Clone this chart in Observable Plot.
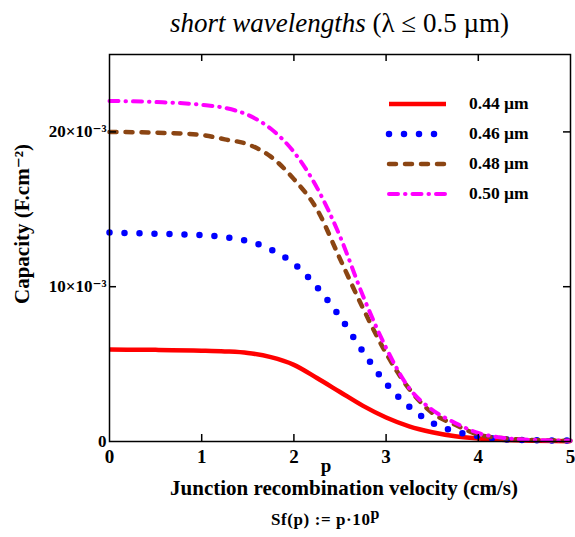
<!DOCTYPE html>
<html>
<head>
<meta charset="utf-8">
<script src="https://cdn.jsdelivr.net/npm/d3@7"></script>
<script src="https://cdn.jsdelivr.net/npm/@observablehq/plot@0.6"></script>
<style>
  html, body { margin: 0; padding: 0; background: #fff; }
  #wrap { position: relative; width: 575px; height: 537px; overflow: hidden; font-family: "Liberation Serif", "DejaVu Serif", serif; }
  #title { position: absolute; left: 0; top: 7px; width: 575px; text-align: center; font-size: 27px; line-height: 32px; padding-left: 104px; box-sizing: border-box; color: #000; }
  #chart { position: absolute; left: 0; top: 50px; }
  #caption { position: absolute; left: 0; top: 509px; width: 575px; text-align: center; font-size: 17px; line-height: 22px; font-weight: bold; letter-spacing: 0.6px; padding-left: 76px; box-sizing: border-box; }
  #caption sup { font-size: 16px; vertical-align: 6px; line-height: 0; }
  #legend { position: absolute; left: 385px; top: 92px; }
  .row { position: relative; height: 30px; }
  .row svg { position: absolute; left: 0; top: 0; }
  .row span { position: absolute; left: 84px; top: 1px; font-size: 17.5px; font-weight: bold; white-space: nowrap; }
</style>
</head>
<body>
<div id="wrap">
  <div id="title"><i>short wavelengths</i> (λ ≤ 0.5 µm)</div>
  <div id="chart"></div>
  <div id="legend"></div>
  <div id="caption">Sf(p) := p·10<sup>p</sup></div>
</div>
<script>
// Data (capacity values in F.cm^-2)
const p = [0, 0.5, 1, 1.25, 1.5, 1.75, 2, 2.25, 2.5, 2.75, 3, 3.25, 3.5, 3.75, 4, 4.25, 4.5, 5];
const c044 = [5.94, 5.92, 5.87, 5.82, 5.72, 5.45, 4.95, 4.1, 3.2, 2.3, 1.55, 0.98, 0.6, 0.34, 0.2, 0.11, 0.06, 0.02];
const c046 = [13.5, 13.42, 13.33, 13.2, 12.95, 12.4, 11.5, 9.98, 8.05, 5.8, 3.75, 2.25, 1.2, 0.65, 0.34, 0.15, 0.09, 0.06];
const c048 = [20.0, 19.95, 19.8, 19.52, 19.2, 18.4, 16.95, 15.0, 11.8, 8.6, 5.7, 3.4, 1.85, 1.08, 0.45, 0.22, 0.12, 0.05];
const c050 = [22.0, 21.93, 21.75, 21.55, 21.1, 20.2, 18.7, 16.4, 13.25, 9.4, 6.05, 3.45, 2.05, 1.2, 0.55, 0.25, 0.13, 0.05];
const seriesNames = ["0.44 µm", "0.46 µm", "0.48 µm", "0.50 µm"];
const seriesValues = [c044, c046, c048, c050];
const xTicks = [0, 1, 2, 3, 4, 5];
const xInnerTicks = [1, 2, 3, 4];
const yTicks = [0, 0.01, 0.02];
const yInnerTicks = [0.01, 0.02];
const yTickLabels = ["0", "10×10⁻³", "20×10⁻³"];

const styles = [
  {stroke: "#ff0000", strokeWidth: 4.5, strokeDasharray: null, strokeLinecap: "butt"},
  {stroke: "#0000ff", strokeWidth: 6.5, strokeDasharray: "0 15", strokeLinecap: "round"},
  {stroke: "#8b4513", strokeWidth: 4.5, strokeDasharray: "7 9", strokeLinecap: "round"},
  {stroke: "#ff00ff", strokeWidth: 4, strokeDasharray: "9 7 0.5 7", strokeLinecap: "round"}
];

const rows = [];
seriesValues.forEach((vals, i) => vals.forEach((v, j) => rows.push({p: p[j], c: v * 1e-3, s: seriesNames[i]})));

const W = 575, H = 455;
const mL = 109, mR = 5, mT = 4, mB = 64;
const frameW = W - mL - mR, frameH = H - mT - mB;

const lineMarks = seriesNames.map((name, i) => {
  const st = styles[i];
  const o = {x: "p", y: "c", curve: "monotone-x", stroke: st.stroke, strokeWidth: st.strokeWidth, strokeLinecap: st.strokeLinecap, strokeLinejoin: "round"};
  if (st.strokeDasharray) o.strokeDasharray = st.strokeDasharray;
  return Plot.line(rows.filter(d => d.s === name), o);
});

const chart = Plot.plot({
  width: W, height: H,
  marginLeft: mL, marginRight: mR, marginTop: mT, marginBottom: mB,
  style: {fontFamily: "'Liberation Serif', 'DejaVu Serif', serif", fontWeight: "bold", color: "#000", background: "transparent", overflow: "visible"},
  x: {domain: [0, 5]},
  y: {domain: [0, 0.025]},
  marks: [
    ...lineMarks,
    Plot.frame({stroke: "#000", strokeWidth: 1.5}),
    Plot.tickX(xInnerTicks, {x: d => d, insetTop: frameH - 7, stroke: "#000", strokeWidth: 1.5}),
    Plot.tickX(xInnerTicks, {x: d => d, insetBottom: frameH - 7, stroke: "#000", strokeWidth: 1.5}),
    Plot.tickY(yInnerTicks, {y: d => d, insetRight: frameW - 7, stroke: "#000", strokeWidth: 1.5}),
    Plot.tickY(yInnerTicks, {y: d => d, insetLeft: frameW - 7, stroke: "#000", strokeWidth: 1.5}),
    Plot.axisX({ticks: xTicks, tickSize: 0, tickPadding: 8, fontSize: 19, label: null, tickFormat: d => String(d)}),
    Plot.axisY({ticks: yTicks, tickSize: 0, tickPadding: 3, fontSize: 17, label: null, tickFormat: (d) => yTickLabels[yTicks.indexOf(d)]}),
    Plot.text(["p"], {frameAnchor: "bottom", text: d => d, dy: 30, dx: -14, fontSize: 19, fontWeight: "bold"}),
    Plot.text(["Junction recombination velocity (cm/s)"], {frameAnchor: "bottom", text: d => d, dy: 53, dx: 4, fontSize: 21, fontWeight: "bold"}),
    Plot.text(["Capacity (F.cm⁻²)"], {frameAnchor: "left", textAnchor: "middle", text: d => d, rotate: -90, dx: -87, dy: -24, fontSize: 21, fontWeight: "bold"})
  ]
});
document.getElementById("chart").appendChild(chart);

// Legend
const legend = d3.select("#legend");
seriesNames.forEach((name, i) => {
  const st = styles[i];
  const row = legend.append("div").attr("class", "row");
  const svg = row.append("svg").attr("width", 66).attr("height", 24);
  const line = svg.append("line").attr("x1", 4).attr("x2", 61).attr("y1", 12).attr("y2", 12)
    .attr("stroke", st.stroke).attr("stroke-width", st.strokeWidth).attr("stroke-linecap", st.strokeLinecap);
  if (st.strokeDasharray) line.attr("stroke-dasharray", st.strokeDasharray);
  row.append("span").text(name);
});
</script>
</body>
</html>
